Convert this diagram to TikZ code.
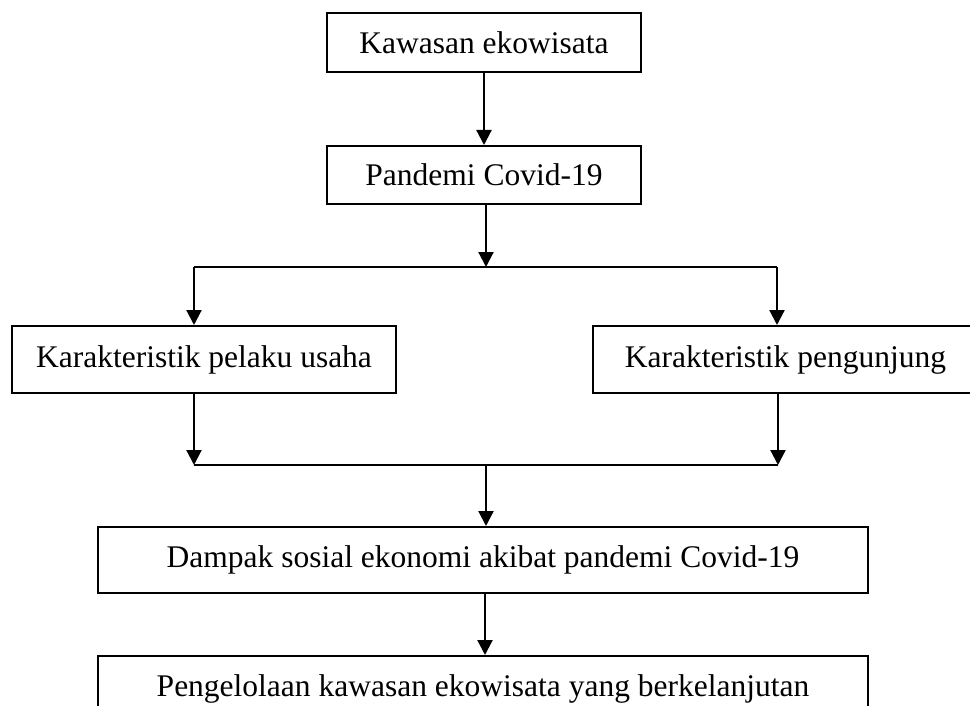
\documentclass[tikz,border=0pt]{standalone}
\usepackage{fontspec}
\setmainfont{Liberation Serif}
\usetikzlibrary{arrows.meta}
\begin{document}
\begin{tikzpicture}[x=1pt,y=-1pt,
  box/.style={draw,line width=2pt,inner sep=0pt,font=\fontsize{31.5}{36}\selectfont},
  conn/.style={line width=2.2pt},
  arr/.style={conn,-{Triangle[length=15pt,width=15pt]}}]
\useasboundingbox (0,0) rectangle (970,706);
\clip (0,0) rectangle (970,706);
\node[box,minimum width=314pt,minimum height=59pt] (b1) at (484,42.5) {Kawasan ekowisata};
\node[box,minimum width=314pt,minimum height=58pt] (b2) at (484,175) {Pandemi Covid-19};
\node[box,minimum width=384pt,minimum height=67pt] (b3) at (204,359.5) {Karakteristik pelaku usaha};
\node[box,minimum width=385pt,minimum height=67pt] (b4) at (785.5,359.5) {Karakteristik pengunjung};
\node[box,minimum width=770pt,minimum height=66pt] (b5) at (483,560) {Dampak sosial ekonomi akibat pandemi Covid-19};
\node[box,minimum width=770pt,minimum height=66pt] (b6) at (483,689) {Pengelolaan kawasan ekowisata yang berkelanjutan};
\coordinate (sM) at (486,267);
\coordinate (sL) at (194,267);
\coordinate (sR) at (777,267);
\coordinate (jL) at (194,465);
\coordinate (jR) at (778,465);
\coordinate (jM) at (486,465);
\draw[arr] (484,0 |- b1.south) -- (484,0 |- b2.north);
\draw[arr] (b2.south -| sM) -- (sM);
\draw[conn] (sL) -- (sR);
\draw[arr] (sL) -- (sL |- b3.north);
\draw[arr] (sR) -- (sR |- b4.north);
\draw[arr] (b3.south -| jL) -- (jL);
\draw[arr] (b4.south -| jR) -- (jR);
\draw[conn] (jL) -- (jR);
\draw[arr] (jM) -- (jM |- b5.north);
\draw[arr] (b5.south -| 485,0) -- (b6.north -| 485,0);
\end{tikzpicture}
\end{document}
